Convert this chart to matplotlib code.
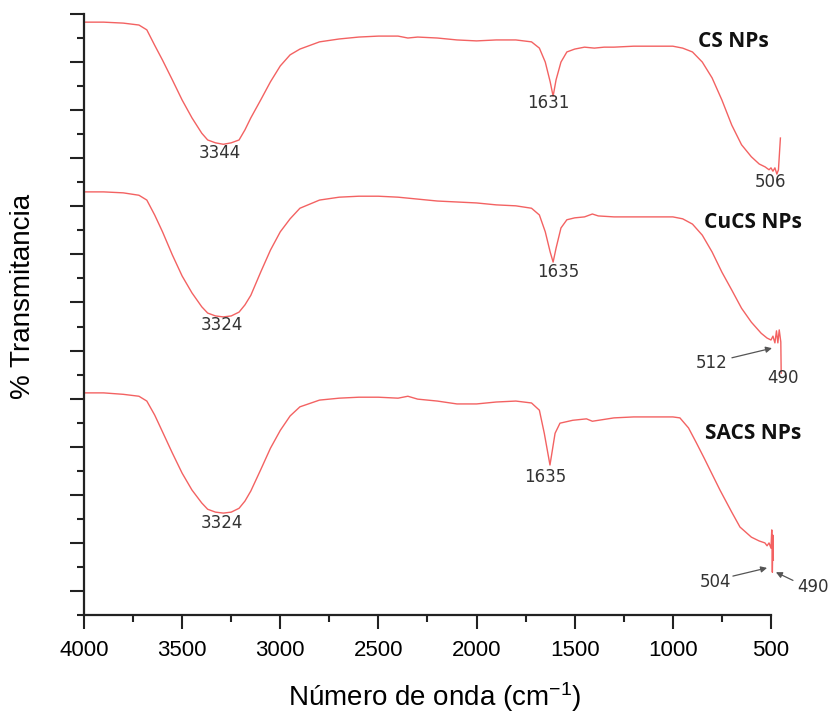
import matplotlib
matplotlib.use('Agg')
from matplotlib import pyplot as plt
import matplotlib.ticker as ticker

plt.rcParams['font.family'] = ['Liberation Sans', 'DejaVu Sans']
plt.rcParams['mathtext.default'] = 'regular'

# espectros FTIR (numero de onda, transmitancia desplazada)
cs_wn = [4000, 3900, 3800, 3720, 3680, 3640, 3600, 3550, 3500, 3450, 3400, 3370, 3330, 3290,
         3250, 3210, 3180, 3150, 3100, 3050, 3000, 2950, 2900, 2800, 2700, 2600, 2500, 2400,
         2350, 2300, 2200, 2100, 2000, 1900, 1800, 1720, 1680, 1650, 1625, 1610, 1595, 1570,
         1540, 1500, 1450, 1400, 1350, 1300, 1200, 1100, 1000, 950, 900, 850, 800, 750, 700,
         650, 600, 560, 530, 510, 500, 490, 480, 470, 462, 452]
cs_t = [118.3, 118.3, 118.1, 117.7, 116.7, 113.5, 110.4, 106.3, 102.1, 98.4, 95.2, 93.8, 93.2, 92.9,
        93.2, 93.8, 95.9, 98.4, 102.1, 105.9, 109.2, 111.5, 112.7, 114.2, 114.8, 115.2, 115.4, 115.4,
        115.0, 115.2, 115.0, 114.6, 114.4, 114.6, 114.6, 114.2, 112.9, 110.0, 105.9, 102.9, 106.3, 110.0,
        112.1, 112.7, 113.1, 112.9, 113.1, 113.1, 113.3, 113.3, 113.3, 112.9, 112.1, 110.0, 106.7, 102.1, 96.9,
        92.8, 90.3, 88.8, 88.2, 87.6, 88.0, 87.3, 88.0, 86.7, 87.6, 94.2]

cucs_wn = [4000, 3900, 3800, 3720, 3680, 3640, 3600, 3550, 3500, 3450, 3400, 3370, 3330, 3290,
           3250, 3210, 3180, 3150, 3100, 3050, 3000, 2950, 2900, 2800, 2700, 2600, 2500, 2400,
           2300, 2200, 2100, 2000, 1900, 1800, 1720, 1680, 1650, 1625, 1610, 1595, 1570, 1540,
           1500, 1450, 1410, 1380, 1300, 1200, 1000, 950, 900, 850, 800, 750, 700, 650, 600,
           550, 520, 500, 490, 480, 472, 465, 458, 450, 448]
cucs_t = [83.0, 83.0, 82.8, 82.3, 81.3, 78.2, 74.7, 69.9, 65.5, 62.0, 59.1, 57.8, 57.2, 57.0,
          57.2, 58.0, 59.5, 61.5, 66.3, 70.9, 74.7, 77.4, 79.6, 81.3, 81.9, 82.1, 82.1, 81.9,
          81.5, 81.1, 80.9, 80.7, 80.3, 80.1, 79.6, 78.2, 74.7, 70.5, 68.4, 71.3, 75.5, 77.2,
          77.6, 77.8, 78.4, 78.0, 77.8, 77.8, 77.8, 77.4, 76.3, 74.0, 70.5, 66.3, 62.6, 58.8, 55.9,
          53.6, 52.6, 52.2, 53.0, 51.6, 54.1, 51.6, 54.3, 51.8, 45.3]

sacs_wn = [4000, 3900, 3800, 3720, 3680, 3640, 3600, 3550, 3500, 3450, 3400, 3370, 3330, 3290,
           3250, 3210, 3180, 3150, 3100, 3050, 3000, 2950, 2900, 2800, 2700, 2600, 2500, 2400,
           2350, 2300, 2200, 2100, 2000, 1900, 1800, 1720, 1680, 1655, 1626, 1600, 1575, 1510,
           1440, 1410, 1300, 1200, 1000, 964, 920, 880, 840, 811, 760, 700, 658, 600, 560, 531,
           520, 510, 500, 496, 493, 490, 488]
sacs_t = [41.2, 41.2, 40.9, 40.5, 39.5, 36.6, 33.1, 28.7, 24.5, 21.0, 18.3, 17.0, 16.4, 16.2,
          16.4, 17.2, 18.7, 20.8, 25.2, 29.7, 33.4, 36.4, 38.3, 39.7, 40.1, 40.3, 40.3, 40.1,
          40.5, 39.9, 39.5, 38.9, 38.9, 39.3, 39.5, 39.1, 37.6, 32.8, 26.2, 32.8, 34.9, 35.5,
          35.8, 35.3, 36.0, 36.2, 36.2, 36.0, 33.9, 30.8, 27.6, 25.2, 21.0, 16.4, 13.3, 11.2, 10.4, 10.0,
          9.4, 10.0, 8.9, 12.7, 3.9, 11.6, 6.4]

sample_names = ['CS NPs', 'CuCS NPs', 'SACS NPs']
name_pos = [(694, 114.2), (592, 76.7), (592, 32.8)]

# etiquetas de picos: texto, posicion
peak_labels = ['3344', '1631', '506', '3324', '1635', '3324', '1635']
peak_pos = [(3307, 91.1), (1636, 101.5), (505, 85.0), (3297, 55.3), (1585, 66.3),
            (3297, 14.1), (1651, 23.7)]

# etiquetas con flecha: texto, posicion del texto, punta de flecha, inicio de flecha
arrow_labels = ['512', '490', '504', '490']
arrow_text_pos = [(801, 47.4), (439, 44.3), (785, 1.9), (286, 0.8)]
arrow_tip = [(495, 50.5), None, (520, 4.8), (475, 3.9)]
arrow_tail = [(699, 48.5), None, (694, 3.1), (388, 2.2)]

line_color = '#f36262'

figure = plt.figure(figsize=(8.4, 7.13), dpi=100)
ax = figure.add_axes([0.1, 0.1374, 0.8342, 0.843])

ax.plot(cs_wn, cs_t, color=line_color, lw=1.0)
ax.plot(cucs_wn, cucs_t, color=line_color, lw=1.0)
ax.plot(sacs_wn, sacs_t, color=line_color, lw=1.0)

ax.set_xlim(4000, 430)
ax.set_ylim(-5, 120)

for name, (x, y) in zip(sample_names, name_pos):
    ax.text(x, y, name, ha='center', va='center', fontsize=15, fontweight='bold',
            family=['Open Sans', 'DejaVu Sans'], color='#111111')

for lab, (x, y) in zip(peak_labels, peak_pos):
    ax.text(x, y, lab, ha='center', va='center', fontsize=12, family=['DejaVu Sans'],
            color='#333333')

for lab, pos, tip, tail in zip(arrow_labels, arrow_text_pos, arrow_tip, arrow_tail):
    ax.text(pos[0], pos[1], lab, ha='center', va='center', fontsize=12,
            family=['DejaVu Sans'], color='#333333', clip_on=False)
    if tip is not None:
        ax.annotate('', xy=tip, xytext=tail,
                    arrowprops=dict(arrowstyle='-|>', color='#555555', lw=0.9,
                                    mutation_scale=9, shrinkA=0, shrinkB=0))

for side in ['top', 'right']:
    ax.spines[side].set_visible(False)
for side in ['left', 'bottom']:
    ax.spines[side].set_linewidth(1.6)
    ax.spines[side].set_color('#222222')
ax.spines['bottom'].set_bounds(4000, 500)

ax.xaxis.set_major_locator(ticker.FixedLocator([4000, 3500, 3000, 2500, 2000, 1500, 1000, 500]))
ax.xaxis.set_minor_locator(ticker.FixedLocator([3750, 3250, 2750, 2250, 1750, 1250, 750]))
ax.yaxis.set_major_locator(ticker.MultipleLocator(10))
ax.yaxis.set_minor_locator(ticker.MultipleLocator(5))
ax.set_yticklabels([])
ax.tick_params(which='both', direction='out', width=1.5, color='#222222')
ax.tick_params(which='major', length=10)
ax.tick_params(which='minor', length=5)
ax.tick_params(axis='x', labelsize=16, pad=8)
ax.set_xticklabels(['4000', '3500', '3000', '2500', '2000', '1500', '1000', '500'])

ax.set_xlabel('Número de onda (cm$^{-1}$)', fontsize=20, labelpad=14)
ax.set_ylabel('% Transmitancia', fontsize=20)
ax.yaxis.set_label_coords(-0.068, 0.53)

figure.savefig('out.png', dpi=100)
